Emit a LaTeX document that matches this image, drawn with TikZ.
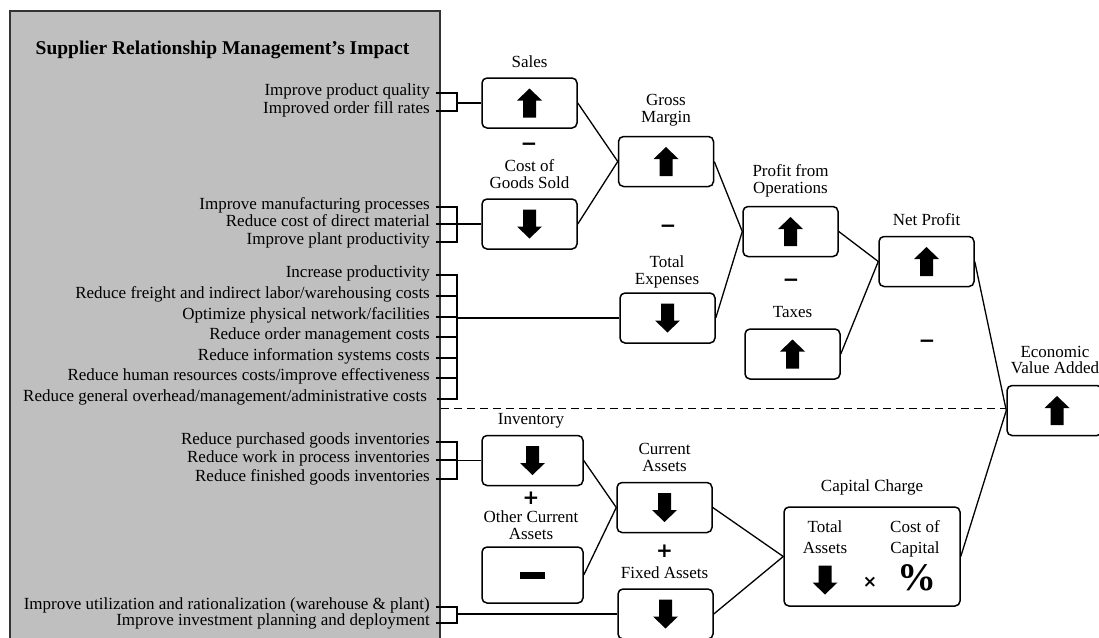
\documentclass[tikz,border=0pt]{standalone}
\usepackage{fontspec}
\setmainfont{Liberation Serif}
\newfontfamily\opfont{DejaVu Sans}
\usetikzlibrary{calc}
\definecolor{panelgray}{HTML}{BFBFBF}
\definecolor{panelline}{HTML}{333333}
\begin{document}
\begin{tikzpicture}[x=1pt,y=-1pt,
  every node/.style={font=\fontsize{17}{17}\selectfont, text=black},
  box/.style={draw, rounded corners=5pt, line width=1.5pt, minimum width=95pt,
    minimum height=50pt, inner sep=0pt},
  lbl/.style={align=center, inner sep=0pt, yshift=-1.5pt},
  item/.style={anchor=mid east, inner sep=0pt},
  link/.style={line width=1.3pt},
  brace/.style={line width=1.8pt, line join=miter},
  op/.style={font=\opfont\bfseries\fontsize{20}{20}\selectfont, inner sep=0pt},
  uparrow/.pic={\fill (0,-14.5) -- (12.5,-2.5) -- (6.5,-2.5) -- (6.5,14.5)
    -- (-6.5,14.5) -- (-6.5,-2.5) -- (-12.5,-2.5) -- cycle;},
  downarrow/.pic={\fill (0,14.5) -- (12.5,2.5) -- (6.5,2.5) -- (6.5,-14.5)
    -- (-6.5,-14.5) -- (-6.5,2.5) -- (-12.5,2.5) -- cycle;}
]
\useasboundingbox (0,0) rectangle (1099,637);
\clip (0,0) rectangle (1099,637);

% left panel with the list of initiatives
\fill[panelgray] (10,11) rectangle (440,660);
\draw[panelline, line width=1.2pt] (10,660) -- (10,11) -- (440,11) -- (440,660);
\node[inner sep=0pt, font=\bfseries\fontsize{19.5}{20}\selectfont] (title) at (222.5,50)
  {Supplier Relationship Management’s Impact};

\coordinate (bx) at (457,0);

% initiatives
\node[item] (s1) at (430,93) {Improve product quality};
\node[item] (s2) at (430,111) {Improved order fill rates};

\node[item] (c1) at (430,207) {Improve manufacturing processes};
\node[item] (c2) at (430,224) {Reduce cost of direct material};
\node[item] (c3) at (430,242) {Improve plant productivity};

\node[item] (t1) at (430,275) {Increase productivity};
\node[item] (t2) at (430,296) {Reduce freight and indirect labor/warehousing costs};
\node[item] (t3) at (430,317) {Optimize physical network/facilities};
\node[item] (t4) at (430,337) {Reduce order management costs};
\node[item] (t5) at (430,358) {Reduce information systems costs};
\node[item] (t6) at (430,378) {Reduce human resources costs/improve effectiveness};
\node[item] (t7) at (427,399) {Reduce general overhead/management/administrative costs};

\node[item] (i1) at (430,442) {Reduce purchased goods inventories};
\node[item] (i2) at (430,460) {Reduce work in process inventories};
\node[item] (i3) at (430,479) {Reduce finished goods inventories};

\node[item] (f1) at (430,607) {Improve utilization and rationalization (warehouse \& plant)};
\node[item] (f2) at (430,623) {Improve investment planning and deployment};

% driver boxes
\node[box] (sales) at (529.5,103) {};
\node[box] (cogs) at (529.5,224) {};
\node[box] (gm) at (666,161.5) {};
\node[box] (te) at (667.5,318) {};
\node[box] (pfo) at (790.5,231.5) {};
\node[box] (tax) at (792.5,354) {};
\node[box] (np) at (926.5,261.5) {};
\node[box] (eva) at (1054.5,410.5) {};
\node[box, minimum width=101pt] (inv) at (532.5,460.5) {};
\node[box, minimum width=101pt, minimum height=56pt] (oca) at (532.5,575) {};
\node[box] (ca) at (664.5,507.5) {};
\node[box] (fa) at (665.5,614) {};
\node[box, minimum width=176pt, minimum height=99pt] (cc) at (872,556.5) {};

% direction icons
\pic at (sales) {uparrow};
\pic at (cogs) {downarrow};
\pic at (gm) {uparrow};
\pic at (te) {downarrow};
\pic at (pfo) {uparrow};
\pic at (tax) {uparrow};
\pic at (np) {uparrow};
\pic at ([xshift=2.5pt]eva.center) {uparrow};
\pic at (inv) {downarrow};
\pic at (ca) {downarrow};
\pic at (fa) {downarrow};
\pic at (825,580) {downarrow};
\fill ([xshift=-13pt,yshift=-3.5pt]oca.center) rectangle ([xshift=12pt,yshift=3.5pt]oca.center);

% box titles
\node[lbl] (lsales) at (529.5,60) {Sales};
\node[lbl] (lcogs) at (529.5,172.5) {Cost of\\Goods Sold};
\node[lbl] (lgm) at (666,109) {Gross\\Margin};
\node[lbl] (lte) at (667,270.5) {Total\\Expenses};
\node[lbl] (lpfo) at (790.5,179.5) {Profit from\\Operations};
\node[lbl] (lnp) at (926.5,218) {Net Profit};
\node[lbl] (ltax) at (792.5,311) {Taxes};
\node[lbl, font=\fontsize{17}{16}\selectfont] (leva) at (1055,358) {Economic\\Value Added};
\node[lbl] (linv) at (531,419.5) {Inventory};
\node[lbl] (loca) at (531,523.5) {Other Current\\Assets};
\node[lbl] (lca) at (664.5,455.5) {Current\\Assets};
\node[lbl] (lfa) at (664.5,571) {Fixed Assets};
\node[lbl] (lcc) at (872,485.5) {Capital Charge};
\node[lbl, font=\fontsize{17}{21}\selectfont] (lta) at (825,537) {Total\\Assets\vphantom{p}};
\node[lbl, font=\fontsize{17}{21}\selectfont] (lcoc) at (915,537) {Cost of\\Capital};
\node[op, font=\opfont\bfseries\fontsize{17}{17}\selectfont] (times) at (870,582) {×};
\node[inner sep=0pt, font=\bfseries\fontsize{39}{39}\selectfont] (pct) at (917,578) {\%};

% operators
\node[op] (m1) at (529,147) {−};
\node[op] (m2) at (668,229) {−};
\node[op] (m3) at (791,283) {−};
\node[op] (m4) at (927,344) {−};
\node[op] (p1) at (531,498) {+};
\node[op] (p2) at (664.5,551) {+};

% brackets gathering the initiatives
\draw[brace] ([xshift=6pt]s1.mid east) -| (bx |- s2.mid east) -- ([xshift=6pt]s2.mid east);
\draw[link] (bx |- sales.west) -- (sales.west);

\draw[brace] ([xshift=6pt]c1.mid east) -| (bx |- c3.mid east) -- ([xshift=6pt]c3.mid east);
\draw[brace] ([xshift=6pt]c2.mid east) -- (bx |- c2.mid east);
\draw[link] (bx |- cogs.west) -- (cogs.west);

\draw[brace] ([xshift=6pt]t1.mid east) -| (bx |- t7.mid east) -- ([xshift=10pt]t7.mid east);
\foreach \t in {t2,t3,t4,t5,t6}
  \draw[brace] ([xshift=6pt]\t.mid east) -- (bx |- \t.mid east);
\draw[link] (bx |- te.west) -- (te.west);

\draw[brace] ([xshift=6pt]i1.mid east) -| (bx |- i3.mid east) -- ([xshift=6pt]i3.mid east);
\draw[brace] ([xshift=6pt]i2.mid east) -- (bx |- i2.mid east);
\draw[link] (bx |- inv.west) -- (inv.west);

\draw[brace] ([xshift=6pt]f1.mid east) -| (bx |- f2.mid east) -- ([xshift=6pt]f2.mid east);
\draw[link] (bx |- fa.west) -- (fa.west);

% value tree connectors
\draw[link] (sales.east) -- (gm.west) -- (cogs.east);
\draw[link] (gm.east) -- (pfo.west) -- (te.east);
\draw[link] (pfo.east) -- (np.west) -- (tax.east);
\draw[link] (np.east) -- (eva.west) -- (cc.east);
\draw[link] (inv.east) -- (ca.west) -- (oca.east);
\draw[link] (ca.east) -- (cc.west) -- (fa.east);

% divider between income statement and balance sheet
\coordinate (dstart) at (441,408.5);
\draw[link, dash pattern=on 8pt off 5pt] (dstart) -- (dstart -| eva.west);
\end{tikzpicture}
\end{document}
